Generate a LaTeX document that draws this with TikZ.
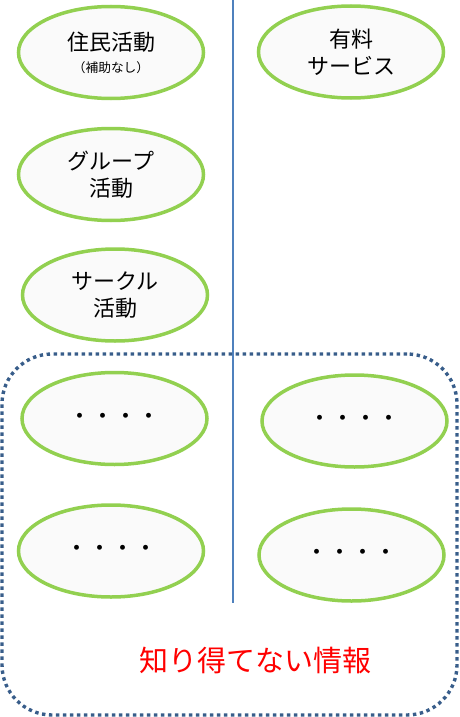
\documentclass[tikz,border=0pt]{standalone}
\usepackage{fontspec}
\usetikzlibrary{shapes.geometric}
\newfontfamily\jp{Noto Sans CJK JP}
\definecolor{bubgreen}{HTML}{92D050}
\definecolor{bubfill}{HTML}{FAFAFA}
\definecolor{vblue}{HTML}{4F81BD}
\definecolor{dotblue}{HTML}{385D8A}
\definecolor{infored}{HTML}{FF0000}
\begin{document}
\begin{tikzpicture}[x=1pt,y=-1pt,
  bub/.style={ellipse, draw=bubgreen, line width=3.5pt, fill=bubfill,
    minimum width=185pt, minimum height=92pt, inner sep=0pt, align=center,
    text=black, font=\jp\fontsize{22}{27}\selectfont},
  dotsbub/.style={bub, font=\jp\fontsize{23}{27}\selectfont},
  vline/.style={draw=vblue, line width=1.3pt},
  infobox/.style={draw=dotblue, line width=3.4pt, dash pattern=on 3.4pt off 3.6pt,
    rounded corners=50pt, minimum width=455pt, minimum height=361pt, inner sep=0pt},
  infotext/.style={text=infored, font=\jp\fontsize{29}{32}\selectfont}
]
\useasboundingbox (0,0) rectangle (459,717);
\coordinate (vtop) at (233,0);
\coordinate (vbot) at (233,603);
\draw[vline] (vtop) -- (vbot);
\node[infobox] (info) at (229.5,534.5) {};
\node[bub] (jumin) at (111,52.5) {住民活動\\[-5pt]{\fontsize{12.7}{15}\selectfont （補助なし）}};
\node[bub] (yuryo) at (351,52) {有料\\サービス};
\node[bub] (group) at (111,174.5) {グループ\\活動};
\node[bub] (circle) at (115,295) {サークル\\活動};
\node[dotsbub] (d1) at (114.5,418.5) {・・・・};
\node[dotsbub] (d2) at (354.5,421) {・・・・};
\node[dotsbub] (d3) at (111,551) {・・・・};
\node[dotsbub] (d4) at (351.5,555) {・・・・};
\node[infotext] (unknown) at (255,660) {知り得てない情報};
\end{tikzpicture}
\end{document}
